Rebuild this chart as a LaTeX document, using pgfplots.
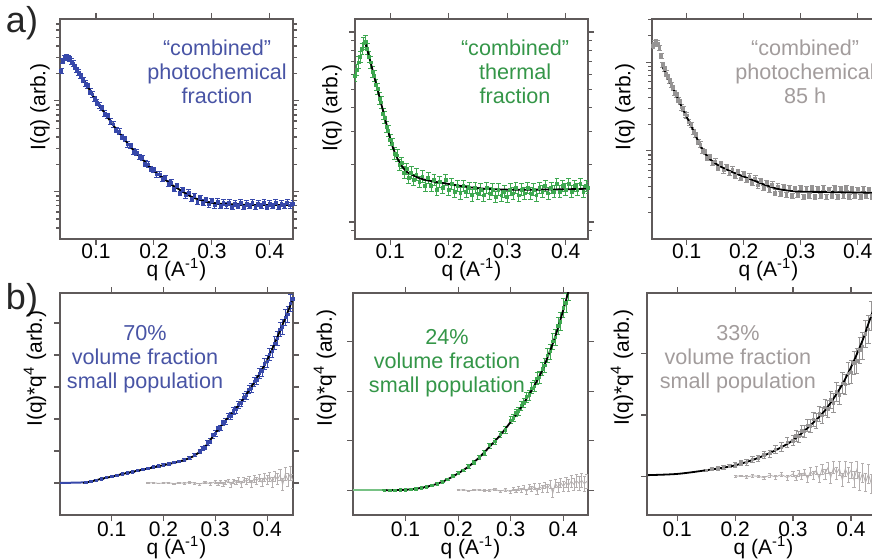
\documentclass[border=0pt]{standalone}
\usepackage{fontspec}
\setmainfont{Liberation Sans}
\usepackage{pgfplots}
\usepackage{pgfplotstable}
\pgfplotsset{compat=1.18}
\definecolor{axisc}{RGB}{95,90,90}
\definecolor{dblue}{RGB}{55,72,170}
\definecolor{tblue}{RGB}{72,84,165}
\definecolor{dgreen}{RGB}{62,168,80}
\definecolor{tgreen}{RGB}{52,150,72}
\definecolor{dgray}{RGB}{150,148,148}
\definecolor{tgray}{RGB}{162,156,156}
\definecolor{rgray}{RGB}{180,175,175}
\newcommand{\tsz}{\fontsize{10.5}{12}\selectfont}
\newcommand{\asz}{\fontsize{10.8}{12}\selectfont}
\pgfplotsset{
  panel/.style={scale only axis, width=116.5pt, anchor=south west,
    axis line style={draw=axisc, line width=0.7pt},
    tick style={draw=axisc, line width=0.6pt},
    tick align=outside, major tick length=3pt, minor tick length=1.8pt,
    xtick={0.1,0.2,0.3,0.4}, xticklabels={0.1,0.2,0.3,0.4},
    yticklabel={\mbox{}},
    xticklabel style={anchor=center, font=\tsz},
    label style={font=\tsz},
    xlabel={q (A\textsuperscript{-1})},
  },
  rowa/.style={panel, height=110pt,
    ytick={0,1},
    minor ytick={-0.699,-0.523,-0.398,-0.301,-0.222,-0.155,-0.097,-0.046,0.301,0.477,0.602,0.699,0.778,0.845,0.903,0.954,1.301,1.477,1.602,1.699,1.778,1.845},
    xticklabel style={yshift=-3pt},
    xlabel style={at={(axis description cs:0.5,0)}, anchor=center, yshift=-15.5pt},
    ylabel={I(q) (arb.)},
  },
  rowb/.style={panel, height=111pt,
    xticklabel style={yshift=-4pt},
    xlabel style={at={(axis description cs:0.5,0)}, anchor=center, yshift=-16.5pt},
    ylabel={I(q)*q\textsuperscript{4} (arb.)},
  },
  dat/.style={only marks, mark=square*, mark size=0.6pt, color=#1,
    error bars/.cd, y dir=both, y explicit,
    error bar style={color=#1, line width=0.4pt},
    error mark options={rotate=90, color=#1, mark size=1.1pt, line width=0.4pt}},
  datc/.style={only marks, mark=square*, mark size=0.7pt, color=#1,
    error bars/.cd, y dir=both, y fixed=0.03,
    error bar style={color=#1, line width=0.5pt},
    error mark options={rotate=90, color=#1, mark size=1.2pt, line width=0.5pt}},
  resid/.style={rgray, line width=0.4pt, mark=none,
    error bars/.cd, y dir=both, y explicit,
    error bar style={color=rgray, line width=0.3pt},
    error mark options={rotate=90, color=rgray, mark size=0.8pt, line width=0.3pt}},
  fit/.style={black, line width=0.9pt, mark=none, smooth},
}
% ---------------- row a data (log10 I) ----------------
\pgfplotstableread{
x y
0.040 1.33
0.043 1.44
0.046 1.47
0.049 1.48
0.052 1.47
0.055 1.46
0.058 1.43
0.061 1.41
0.064 1.37
0.067 1.34
0.070 1.31
0.074 1.27
0.078 1.23
0.082 1.19
0.086 1.16
0.090 1.10
0.094 1.07
0.098 1.02
0.102 0.98
0.106 0.95
0.110 0.92
0.115 0.86
0.120 0.83
0.125 0.77
0.130 0.74
0.135 0.68
0.140 0.66
0.145 0.60
0.150 0.58
0.155 0.52
0.160 0.50
0.165 0.44
0.170 0.43
0.175 0.38
0.180 0.37
0.185 0.31
0.190 0.30
0.195 0.25
0.200 0.24
0.205 0.19
0.210 0.19
0.215 0.14
0.220 0.15
0.225 0.09
0.230 0.10
0.235 0.03
0.240 0.06
0.245 -0.01
0.250 0.02
0.255 -0.04
0.260 -0.01
0.265 -0.08
0.270 -0.05
0.275 -0.11
0.280 -0.07
0.285 -0.12
0.290 -0.09
0.295 -0.14
0.300 -0.10
0.305 -0.15
0.310 -0.11
0.315 -0.16
0.320 -0.12
0.325 -0.15
0.330 -0.12
0.335 -0.17
0.340 -0.13
0.345 -0.16
0.350 -0.12
0.355 -0.17
0.360 -0.13
0.365 -0.16
0.370 -0.12
0.375 -0.17
0.380 -0.13
0.385 -0.16
0.390 -0.12
0.395 -0.17
0.400 -0.13
0.405 -0.16
0.410 -0.12
0.415 -0.17
0.420 -0.13
0.425 -0.16
0.430 -0.12
0.435 -0.15
0.440 -0.13
}\aonedata
\pgfplotstableread{
x y
0.052 1.47
0.060 1.42
0.070 1.31
0.080 1.21
0.090 1.11
0.100 1.00
0.110 0.91
0.120 0.82
0.130 0.73
0.140 0.65
0.150 0.57
0.160 0.49
0.170 0.42
0.180 0.36
0.190 0.29
0.200 0.23
0.210 0.18
0.220 0.13
0.230 0.08
0.240 0.04
0.250 0.00
0.260 -0.04
0.270 -0.07
0.280 -0.09
0.290 -0.11
0.300 -0.12
0.310 -0.13
0.320 -0.135
0.340 -0.14
0.360 -0.145
0.400 -0.145
0.440 -0.145
}\aonefit
\pgfplotstableread{
x y
0.040 0.77
0.043 0.80
0.046 0.84
0.049 0.87
0.052 0.91
0.055 0.94
0.058 0.95
0.061 0.91
0.064 0.87
0.067 0.84
0.070 0.79
0.073 0.77
0.076 0.72
0.079 0.70
0.082 0.65
0.085 0.63
0.088 0.57
0.091 0.55
0.094 0.50
0.097 0.48
0.100 0.43
0.104 0.41
0.108 0.36
0.112 0.35
0.116 0.30
0.120 0.31
0.124 0.26
0.128 0.28
0.132 0.23
0.136 0.26
0.140 0.22
0.145 0.25
0.150 0.21
0.155 0.24
0.160 0.19
0.165 0.23
0.170 0.19
0.175 0.22
0.180 0.17
0.185 0.21
0.190 0.18
0.195 0.22
0.200 0.17
0.205 0.20
0.210 0.16
0.215 0.19
0.220 0.15
0.225 0.19
0.230 0.16
0.235 0.18
0.240 0.14
0.245 0.18
0.250 0.15
0.255 0.17
0.260 0.14
0.265 0.18
0.270 0.15
0.275 0.17
0.280 0.13
0.285 0.17
0.290 0.14
0.295 0.16
0.300 0.13
0.305 0.17
0.310 0.15
0.315 0.18
0.320 0.14
0.325 0.17
0.330 0.15
0.335 0.18
0.340 0.15
0.345 0.17
0.350 0.14
0.355 0.18
0.360 0.16
0.365 0.19
0.370 0.15
0.375 0.18
0.380 0.16
0.385 0.20
0.390 0.16
0.395 0.19
0.400 0.17
0.405 0.20
0.410 0.16
0.415 0.19
0.420 0.17
0.425 0.20
0.430 0.16
0.435 0.19
0.438 0.18
}\atwodata
\pgfplotstableread{
x y
0.058 0.94
0.065 0.86
0.070 0.80
0.075 0.74
0.080 0.68
0.085 0.62
0.090 0.56
0.095 0.50
0.100 0.44
0.105 0.39
0.110 0.35
0.115 0.32
0.120 0.295
0.125 0.275
0.130 0.26
0.140 0.245
0.150 0.23
0.170 0.215
0.200 0.20
0.230 0.185
0.260 0.175
0.300 0.17
0.350 0.17
0.400 0.172
0.438 0.175
}\atwofit
\pgfplotstableread{
x y
0.040 1.18
0.043 1.21
0.046 1.22
0.049 1.21
0.052 1.16
0.055 1.07
0.058 0.97
0.061 0.92
0.064 0.87
0.067 0.83
0.070 0.79
0.073 0.74
0.076 0.71
0.079 0.65
0.082 0.63
0.085 0.57
0.088 0.55
0.091 0.49
0.094 0.47
0.097 0.41
0.100 0.40
0.104 0.32
0.108 0.29
0.112 0.21
0.116 0.18
0.120 0.10
0.124 0.07
0.128 0.00
0.132 -0.01
0.136 -0.08
0.140 -0.07
0.145 -0.14
0.150 -0.12
0.155 -0.19
0.160 -0.15
0.165 -0.22
0.170 -0.18
0.175 -0.25
0.180 -0.21
0.185 -0.28
0.190 -0.24
0.195 -0.31
0.200 -0.26
0.205 -0.33
0.210 -0.29
0.215 -0.36
0.220 -0.31
0.225 -0.39
0.230 -0.34
0.235 -0.42
0.240 -0.36
0.245 -0.44
0.250 -0.38
0.255 -0.47
0.260 -0.40
0.265 -0.49
0.270 -0.41
0.275 -0.50
0.280 -0.42
0.285 -0.51
0.290 -0.43
0.295 -0.50
0.300 -0.42
0.305 -0.52
0.310 -0.43
0.315 -0.51
0.320 -0.42
0.325 -0.52
0.330 -0.43
0.335 -0.51
0.340 -0.42
0.345 -0.52
0.350 -0.44
0.355 -0.51
0.360 -0.42
0.365 -0.52
0.370 -0.43
0.375 -0.51
0.380 -0.42
0.385 -0.52
0.390 -0.43
0.395 -0.51
0.400 -0.44
0.405 -0.52
0.410 -0.43
0.415 -0.51
0.420 -0.44
0.425 -0.52
0.430 -0.43
0.435 -0.51
0.440 -0.44
0.445 -0.52
}\athreedata
\pgfplotstableread{
x y
0.058 0.94
0.070 0.78
0.080 0.65
0.090 0.51
0.100 0.38
0.110 0.25
0.120 0.11
0.130 -0.01
0.140 -0.09
0.150 -0.14
0.160 -0.18
0.180 -0.24
0.200 -0.29
0.220 -0.34
0.240 -0.39
0.260 -0.43
0.280 -0.45
0.300 -0.46
0.350 -0.465
0.400 -0.47
0.448 -0.475
}\athreefit
% ---------------- row b data ----------------
\pgfplotstableread{
x y e
0.050 0.02 0.01
0.060 0.05 0.01
0.070 0.09 0.01
0.080 0.13 0.01
0.090 0.17 0.01
0.100 0.20 0.02
0.110 0.24 0.02
0.120 0.28 0.02
0.130 0.32 0.02
0.140 0.35 0.02
0.150 0.39 0.02
0.160 0.43 0.03
0.170 0.46 0.03
0.180 0.50 0.03
0.190 0.53 0.03
0.200 0.57 0.03
0.210 0.60 0.04
0.220 0.64 0.04
0.230 0.67 0.04
0.240 0.73 0.05
0.250 0.79 0.05
0.260 0.87 0.05
0.270 0.98 0.06
0.275 1.07 0.06
0.280 1.12 0.06
0.285 1.25 0.07
0.290 1.31 0.07
0.295 1.48 0.07
0.300 1.55 0.08
0.305 1.70 0.08
0.310 1.72 0.08
0.315 1.88 0.09
0.320 1.92 0.09
0.325 2.08 0.10
0.330 2.10 0.10
0.335 2.26 0.10
0.340 2.30 0.11
0.345 2.45 0.11
0.350 2.50 0.12
0.355 2.68 0.12
0.360 2.73 0.13
0.365 2.92 0.13
0.370 2.96 0.14
0.375 3.17 0.14
0.380 3.22 0.15
0.385 3.42 0.16
0.390 3.50 0.16
0.395 3.72 0.17
0.400 3.80 0.18
0.405 4.02 0.18
0.410 4.12 0.19
0.415 4.37 0.20
0.420 4.52 0.21
0.425 4.80 0.22
0.430 4.88 0.23
0.435 5.18 0.24
0.440 5.28 0.25
0.445 5.62 0.27
0.450 5.75 0.28
}\bonedata
\pgfplotstableread{
x y
0.045 0.00
0.060 0.05
0.080 0.13
0.100 0.20
0.120 0.28
0.140 0.35
0.160 0.42
0.180 0.49
0.200 0.56
0.220 0.63
0.240 0.72
0.260 0.86
0.280 1.13
0.300 1.56
0.320 1.96
0.340 2.33
0.360 2.77
0.380 3.27
0.400 3.84
0.420 4.57
0.440 5.35
0.450 5.78
}\bonefit
\pgfplotstableread{
x y e
0.170 0.00 0.01
0.180 0.01 0.01
0.190 -0.01 0.01
0.200 0.00 0.01
0.210 0.01 0.02
0.220 -0.02 0.02
0.230 0.01 0.02
0.240 -0.01 0.02
0.250 0.02 0.03
0.260 0.00 0.03
0.270 -0.03 0.03
0.280 0.02 0.04
0.290 -0.02 0.04
0.300 0.04 0.05
0.305 -0.03 0.05
0.310 0.05 0.05
0.315 -0.04 0.06
0.320 0.03 0.06
0.325 0.07 0.06
0.330 -0.05 0.07
0.335 0.06 0.07
0.340 0.02 0.07
0.345 0.09 0.08
0.350 -0.04 0.08
0.355 0.10 0.09
0.360 0.05 0.09
0.365 0.12 0.10
0.370 -0.02 0.10
0.375 0.14 0.11
0.380 0.08 0.11
0.385 0.16 0.12
0.390 0.03 0.12
0.395 0.18 0.13
0.400 0.10 0.14
0.405 0.20 0.14
0.410 0.02 0.15
0.415 0.22 0.16
0.420 0.12 0.17
0.425 0.25 0.18
0.430 -0.05 0.19
0.435 0.28 0.20
0.440 0.10 0.21
0.445 0.30 0.22
0.450 0.05 0.23
}\boneres
\pgfplotstableread{
x y e
0.060 0.00 0.01
0.070 0.00 0.01
0.080 0.00 0.01
0.090 0.01 0.01
0.100 0.01 0.01
0.110 0.02 0.01
0.120 0.03 0.01
0.130 0.05 0.01
0.140 0.07 0.01
0.150 0.10 0.02
0.160 0.13 0.02
0.170 0.17 0.02
0.180 0.22 0.02
0.190 0.28 0.03
0.200 0.35 0.03
0.210 0.40 0.03
0.220 0.49 0.04
0.230 0.56 0.04
0.240 0.67 0.04
0.250 0.75 0.05
0.260 0.90 0.05
0.270 0.98 0.06
0.280 1.13 0.06
0.290 1.22 0.07
0.300 1.41 0.07
0.305 1.46 0.08
0.310 1.56 0.08
0.315 1.60 0.08
0.320 1.71 0.09
0.325 1.76 0.09
0.330 1.88 0.10
0.335 1.92 0.10
0.340 2.06 0.11
0.345 2.10 0.11
0.350 2.26 0.12
0.355 2.28 0.12
0.360 2.45 0.13
0.365 2.52 0.14
0.370 2.72 0.14
0.375 2.80 0.15
0.380 3.00 0.16
0.385 3.08 0.16
0.390 3.32 0.17
0.395 3.40 0.18
0.400 3.68 0.19
0.405 3.78 0.20
0.410 4.05 0.21
}\btwodata
\pgfplotstableread{
x y
0.060 0.000
0.080 0.003
0.100 0.010
0.120 0.030
0.140 0.070
0.160 0.130
0.180 0.220
0.200 0.340
0.220 0.480
0.240 0.660
0.260 0.880
0.280 1.110
0.300 1.380
0.320 1.680
0.340 2.020
0.360 2.420
0.380 2.960
0.390 3.280
0.400 3.640
0.410 4.020
}\btwofit
\pgfplotstableread{
x y e
0.200 0.00 0.01
0.210 0.01 0.01
0.220 -0.01 0.01
0.230 0.00 0.01
0.240 0.01 0.01
0.250 -0.01 0.02
0.260 0.00 0.02
0.270 0.02 0.02
0.280 -0.02 0.02
0.290 0.01 0.03
0.300 -0.03 0.03
0.305 0.03 0.03
0.310 -0.02 0.03
0.315 0.04 0.04
0.320 0.00 0.04
0.325 0.05 0.04
0.330 -0.03 0.05
0.335 0.06 0.05
0.340 0.02 0.05
0.345 0.08 0.06
0.350 -0.02 0.06
0.355 0.07 0.06
0.360 0.03 0.07
0.365 0.10 0.07
0.370 0.04 0.08
0.375 0.12 0.08
0.380 -0.06 0.09
0.385 0.14 0.09
0.390 0.05 0.10
0.395 0.15 0.10
0.400 0.08 0.11
0.405 0.16 0.11
0.410 0.10 0.12
0.415 0.18 0.12
0.420 0.12 0.13
0.425 0.19 0.13
0.430 0.14 0.14
0.435 0.20 0.14
0.440 0.13 0.15
0.445 0.18 0.15
}\btwores
\pgfplotstableread{
x y e
0.150 0.10 0.02
0.160 0.12 0.02
0.170 0.13 0.03
0.180 0.15 0.03
0.190 0.17 0.03
0.200 0.19 0.04
0.210 0.22 0.04
0.220 0.23 0.05
0.230 0.28 0.05
0.240 0.30 0.05
0.250 0.35 0.06
0.260 0.37 0.06
0.270 0.44 0.07
0.280 0.48 0.07
0.290 0.55 0.08
0.300 0.58 0.08
0.305 0.66 0.09
0.310 0.65 0.09
0.315 0.74 0.09
0.320 0.73 0.10
0.325 0.83 0.10
0.330 0.82 0.11
0.335 0.93 0.11
0.340 0.91 0.12
0.345 1.02 0.12
0.350 0.99 0.13
0.355 1.12 0.13
0.360 1.10 0.14
0.365 1.25 0.14
0.370 1.20 0.15
0.375 1.38 0.16
0.380 1.33 0.16
0.385 1.52 0.17
0.390 1.50 0.17
0.395 1.68 0.18
0.400 1.70 0.19
0.405 1.85 0.19
0.410 1.88 0.20
0.415 2.06 0.21
0.420 2.12 0.22
0.425 2.32 0.22
0.430 2.40 0.23
0.435 2.62 0.24
0.440 2.68 0.25
0.445 2.90 0.26
0.450 2.96 0.27
}\bthreedata
\pgfplotstableread{
x y
0.050 0.02
0.100 0.04
0.150 0.10
0.200 0.18
0.250 0.34
0.300 0.59
0.350 1.02
0.380 1.42
0.400 1.78
0.420 2.22
0.430 2.49
0.440 2.75
0.450 3.02
}\bthreefit
\pgfplotstableread{
x y e
0.200 0.00 0.01
0.210 0.01 0.01
0.220 -0.01 0.02
0.230 0.01 0.02
0.240 0.00 0.02
0.250 -0.02 0.02
0.260 0.02 0.03
0.270 -0.01 0.03
0.280 0.03 0.03
0.290 -0.02 0.04
0.300 0.04 0.04
0.305 -0.03 0.04
0.310 0.05 0.05
0.315 0.00 0.05
0.320 0.07 0.05
0.325 -0.04 0.06
0.330 0.08 0.06
0.335 0.02 0.06
0.340 0.10 0.07
0.345 -0.03 0.07
0.350 0.12 0.08
0.355 0.04 0.08
0.360 0.14 0.09
0.365 -0.02 0.09
0.370 0.15 0.10
0.375 0.05 0.10
0.380 0.13 0.11
0.385 -0.06 0.11
0.390 0.12 0.12
0.395 0.02 0.12
0.400 0.10 0.13
0.405 -0.05 0.13
0.410 0.11 0.14
0.415 -0.08 0.14
0.420 0.06 0.15
0.425 -0.10 0.15
0.430 0.04 0.16
0.435 -0.12 0.16
0.440 0.02 0.17
}\bthreeres
\begin{document}
\begin{tikzpicture}
\useasboundingbox (0,0) rectangle (436pt,279pt);
\clip (0,0) rectangle (436pt,279pt);
\node[font=\fontsize{18}{20}\selectfont, text=black!85] at (11pt,267.5pt) {a)};
\node[font=\fontsize{18}{20}\selectfont, text=black!85] at (11pt,129pt) {b)};
% ---------- a1 ----------
\begin{axis}[rowa, at={(30pt,159.5pt)}, xmin=0.038, xmax=0.44, ymin=-0.52, ymax=1.90,
  ylabel style={at={(axis description cs:-0.086,0.6)}, anchor=center}]
\addplot[datc=dblue] table[x=x,y=y] {\aonedata};
\addplot[fit] table[x=x,y=y] {\aonefit};
\node[align=center, font=\asz, text=tblue] at (rel axis cs:0.674,0.759) {“combined”\\photochemical\\fraction};
\end{axis}
% ---------- a2 ----------
\begin{axis}[rowa, at={(177.5pt,159.5pt)}, xmin=0.040, xmax=0.438, ymin=-0.09, ymax=1.069,
  ylabel style={at={(axis description cs:-0.099,0.595)}, anchor=center}]
\addplot[datc=dgreen] table[x=x,y=y] {\atwodata};
\addplot[fit] table[x=x,y=y] {\atwofit};
\node[align=center, font=\asz, text=tgreen] at (rel axis cs:0.687,0.759) {“combined”\\thermal\\fraction};
\end{axis}
% ---------- a3 ----------
\begin{axis}[rowa, at={(326pt,159.5pt)}, xmin=0.039, xmax=0.448, ymin=-0.994, ymax=1.486,
  ylabel style={at={(axis description cs:-0.116,0.6)}, anchor=center}]
\addplot[datc=dgray] table[x=x,y=y] {\athreedata};
\addplot[fit] table[x=x,y=y] {\athreefit};
\node[align=center, font=\asz, text=tgray] at (rel axis cs:0.657,0.759) {“combined”\\photochemical\\85 h};
\end{axis}
% ---------- b1 ----------
\begin{axis}[rowb, at={(30pt,21.5pt)}, xmin=0, xmax=0.45, ymin=-1.0, ymax=5.94,
  ytick={0,1,2,3,4,5},
  ylabel style={at={(axis description cs:-0.107,0.66)}, anchor=center}]
\addplot[resid] table[x=x,y=y,y error=e] {\boneres};
\addplot[dblue, line width=1pt] coordinates {(0,0) (0.05,0.02)};
\addplot[dat=dblue] table[x=x,y=y,y error=e] {\bonedata};
\addplot[fit] table[x=x,y=y] {\bonefit};
\node[align=center, font=\asz, text=tblue] at (rel axis cs:0.365,0.70) {70\%\\volume fraction\\small population};
\end{axis}
% ---------- b2 ----------
\begin{axis}[rowb, at={(176.5pt,21.5pt)}, width=117.5pt, xmin=0, xmax=0.447, ymin=-0.5, ymax=3.98,
  ytick={0,1,2,3},
  ylabel style={at={(axis description cs:-0.119,0.662)}, anchor=center}]
\addplot[resid] table[x=x,y=y,y error=e] {\btwores};
\addplot[dgreen!70, line width=1pt] coordinates {(0,0) (0.06,0)};
\addplot[dat=dgreen] table[x=x,y=y,y error=e] {\btwodata};
\addplot[fit] table[x=x,y=y] {\btwofit};
\node[align=center, font=\asz, text=tgreen] at (rel axis cs:0.40,0.685) {24\%\\volume fraction\\small population};
\end{axis}
% ---------- b3 ----------
\begin{axis}[rowb, at={(323.5pt,21.5pt)}, xmin=0.048, xmax=0.45, ymin=-0.63, ymax=2.99,
  ytick={0,1,2},
  ylabel style={at={(axis description cs:-0.107,0.664)}, anchor=center}]
\addplot[resid] table[x=x,y=y,y error=e] {\bthreeres};
\addplot[dat=dgray] table[x=x,y=y,y error=e] {\bthreedata};
\addplot[fit] table[x=x,y=y] {\bthreefit};
\node[align=center, font=\asz, text=tgray] at (rel axis cs:0.39,0.70) {33\%\\volume fraction\\small population};
\end{axis}
\end{tikzpicture}
\end{document}
